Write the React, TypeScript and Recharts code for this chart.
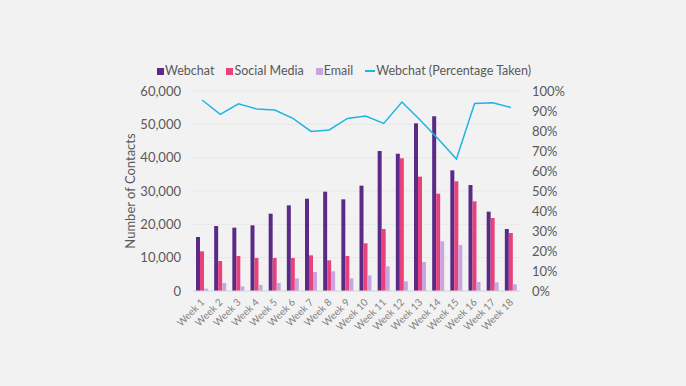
import React from "react";
import {
  ComposedChart,
  Bar,
  Line,
  XAxis,
  YAxis,
  CartesianGrid,
  Legend,
} from "recharts";

const weeks = [
  "Week 1", "Week 2", "Week 3", "Week 4", "Week 5", "Week 6",
  "Week 7", "Week 8", "Week 9", "Week 10", "Week 11", "Week 12",
  "Week 13", "Week 14", "Week 15", "Week 16", "Week 17", "Week 18",
];

const webchat = [
  16200, 19500, 19000, 19700, 23200, 25700, 27700, 29800, 27500,
  31600, 42000, 41200, 50300, 52400, 36200, 31800, 23800, 18600,
];
const socialMedia = [
  11900, 9000, 10500, 9900, 9900, 9900, 10700, 9200, 10500,
  14300, 18600, 39800, 34300, 29200, 32900, 26900, 21900, 17400,
];
const email = [
  700, 2400, 1400, 1800, 2400, 3800, 5700, 5900, 3800,
  4700, 7400, 2900, 8700, 14900, 13800, 2700, 2600, 2000,
];
// webchat share of contacts taken, in %
const webchatPct = [
  95.5, 88.3, 93.6, 91.0, 90.5, 86.3, 79.8, 80.5, 86.3,
  87.5, 83.8, 94.5, 85.5, 76.0, 66.0, 93.8, 94.1, 91.8,
];

const leftTicks = [0, 10000, 20000, 30000, 40000, 50000, 60000];
const rightTicks = [0, 10, 20, 30, 40, 50, 60, 70, 80, 90, 100];

const data = weeks.map((week, i) => ({
  week,
  webchat: webchat[i],
  social: socialMedia[i],
  email: email[i],
  pct: webchatPct[i],
}));

const COLORS = {
  webchat: "#5b2a86",
  social: "#e8427c",
  email: "#c8a5e0",
  line: "#1fb4e4",
};

const FONT = "Lato, 'Open Sans', sans-serif";
const TEXT = "#595959";

const legendItems = [
  { label: "Webchat", color: COLORS.webchat, type: "square" },
  { label: "Social Media", color: COLORS.social, type: "square" },
  { label: "Email", color: COLORS.email, type: "square" },
  { label: "Webchat (Percentage Taken)", color: COLORS.line, type: "line" },
];

function ChartLegend() {
  return (
    <div
      style={{
        display: "flex",
        justifyContent: "center",
        gap: 12,
        fontFamily: FONT,
        fontSize: 12.5,
        lineHeight: "16px",
        color: TEXT,
        paddingLeft: 2,
      }}
    >
      {legendItems.map((it) => (
        <span key={it.label} style={{ display: "flex", alignItems: "center" }}>
          {it.type === "square" ? (
            <span
              style={{
                width: 7,
                height: 7,
                background: it.color,
                marginRight: 1,
              }}
            />
          ) : (
            <span
              style={{
                width: 10,
                height: 1.5,
                background: it.color,
                marginRight: 1,
              }}
            />
          )}
          {it.label}
        </span>
      ))}
    </div>
  );
}

function WeekTick(props: any) {
  const { x, y, payload } = props;
  return (
    <g transform={`translate(${x + 3},${y + 4})`}>
      <text
        textAnchor="end"
        transform="rotate(-45)"
        fontSize={10}
        fontFamily={FONT}
        fill="#808080"
      >
        {payload.value}
      </text>
    </g>
  );
}

export default function App() {
  return (
    <div
      style={{
        position: "fixed",
        left: 0,
        top: 0,
        width: 686,
        height: 386,
        background: "#f2f2f2",
      }}
    >
      <ComposedChart
        width={686}
        height={386}
        data={data}
        margin={{ top: 75, right: 126, bottom: 45, left: 123 }}
        barSize={4}
        barGap={0}
      >
        <CartesianGrid
          vertical={false}
          stroke="#e8e8e8"
          yAxisId="left"
        />
        <XAxis
          dataKey="week"
          interval={0}
          tickLine={false}
          axisLine={{ stroke: "#d9d9d9" }}
          tick={<WeekTick />}
          height={50}
        />
        <YAxis
          yAxisId="left"
          domain={[0, 60000]}
          ticks={leftTicks}
          interval={0}
          width={70}
          tickLine={false}
          axisLine={false}
          tickSize={0}
          tickMargin={12}
          tickFormatter={(v: number) => v.toLocaleString("en-US")}
          tick={{ fontSize: 13, fill: TEXT, fontFamily: FONT }}
          label={{
            value: "Number of Contacts",
            angle: -90,
            position: "insideLeft",
            offset: 7,
            style: {
              textAnchor: "middle",
              fontSize: 13,
              fill: TEXT,
              fontFamily: FONT,
            },
          }}
        />
        <YAxis
          yAxisId="right"
          orientation="right"
          domain={[0, 100]}
          ticks={rightTicks}
          interval={0}
          width={40}
          tickLine={false}
          axisLine={false}
          tickSize={0}
          tickMargin={12}
          tickFormatter={(v: number) => `${v}%`}
          tick={{ fontSize: 13, fill: TEXT, fontFamily: FONT, textAnchor: "start" }}
        />
        <Legend
          verticalAlign="top"
          height={16}
          content={<ChartLegend />}
          wrapperStyle={{ top: 63, left: 0, width: 686 }}
        />
        <Bar
          yAxisId="left"
          dataKey="webchat"
          fill={COLORS.webchat}
          isAnimationActive={false}
        />
        <Bar
          yAxisId="left"
          dataKey="social"
          fill={COLORS.social}
          isAnimationActive={false}
        />
        <Bar
          yAxisId="left"
          dataKey="email"
          fill={COLORS.email}
          isAnimationActive={false}
        />
        <Line
          yAxisId="right"
          dataKey="pct"
          stroke={COLORS.line}
          strokeWidth={1.5}
          dot={false}
          isAnimationActive={false}
        />
      </ComposedChart>
    </div>
  );
}
